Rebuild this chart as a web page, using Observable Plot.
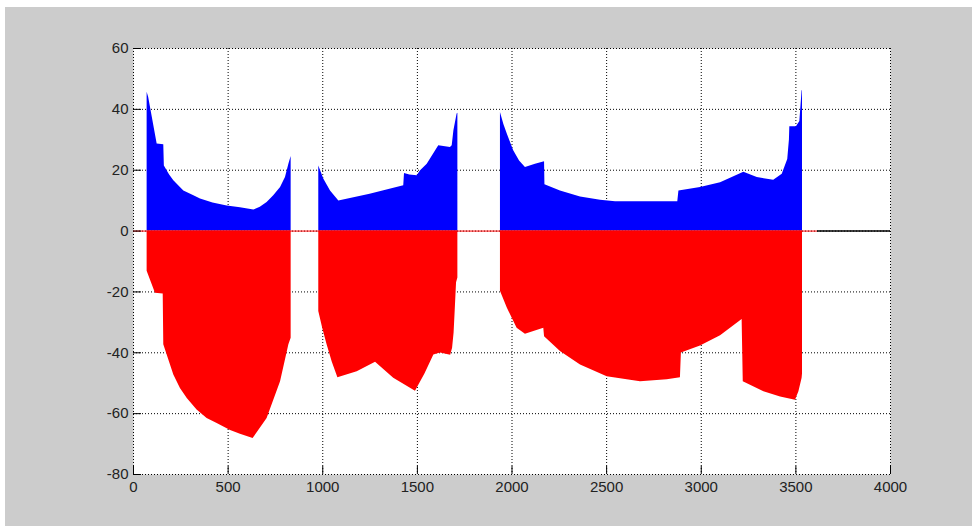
<!DOCTYPE html>
<html>
<head>
<meta charset="utf-8">
<script src="https://cdn.jsdelivr.net/npm/d3@7"></script>
<script src="https://cdn.jsdelivr.net/npm/@observablehq/plot@0.6"></script>
<style>
  html, body { margin: 0; padding: 0; background: #ffffff; }
  #wrap { position: absolute; left: 5px; top: 7px; width: 967px; height: 519px; background: #cccccc; }
  #wrap svg { background: #cccccc; display: block; }
</style>
</head>
<body>
<div id="wrap"></div>
<script>
// x ticks and y ticks
const xTicks = [0, 500, 1000, 1500, 2000, 2500, 3000, 3500, 4000];
const yTicks = [-80, -60, -40, -20, 0, 20, 40, 60];

// Positive (blue) areas: [x, value]
const blueSeg1 = [[72,45.6],[80,44],[125,28.6],[160,28.4],[163,21.4],[190,18.5],[213,16.5],[231,15.4],[266,13.2],[319,11.6],[354,10.5],[420,9.2],[495,8.25],[565,7.7],[636,6.9],[670,7.8],[706,9.4],[741,11.6],[777,14.3],[803,17.6],[821,22],[833,24.5]];
const blueSeg2 = [[979,21.4],[1006,17],[1041,13.2],[1085,9.9],[1250,12.1],[1428,14.9],[1432,18.9],[1460,18.4],[1499,18.2],[1517,19.8],[1552,22],[1613,28],[1675,27.5],[1684,28],[1693,33],[1710,38.5],[1714,38.7]];
const blueSeg3 = [[1939,39],[1957,35],[1975,31.9],[2009,26.4],[2040,23],[2071,20.9],[2124,22],[2172,22.8],[2174,15.2],[2256,13.2],[2362,11.2],[2468,10.1],[2547,9.6],[2876,9.6],[2882,13.2],[2996,14.3],[3102,15.9],[3225,19.3],[3296,17.6],[3383,16.7],[3428,18.7],[3457,23.5],[3466,30],[3468,34.3],[3503,34.3],[3521,36],[3533,46.2],[3535,46]];

// Negative (red) areas: [x, value]
const redSeg1 = [[72,-13.2],[116,-20.4],[157,-20.7],[160,-37.4],[213,-47.3],[248,-51.7],[284,-55],[336,-58.8],[389,-61.6],[442,-63.2],[513,-65.5],[565,-66.8],[632,-68.2],[706,-61.6],[777,-49.5],[821,-37.4],[833,-35.2]];
const redSeg2 = [[979,-26.4],[1000,-32],[1023,-37.4],[1050,-43],[1080,-48.2],[1182,-46.2],[1279,-43.1],[1375,-48.4],[1490,-52.6],[1540,-47],[1587,-40.7],[1622,-40.1],[1676,-40.8],[1686,-38.5],[1694,-33.5],[1700,-26],[1707,-17],[1714,-15.4]];
const redSeg3 = [[1939,-19.8],[1975,-25.3],[2027,-31.9],[2071,-33.9],[2168,-31.9],[2172,-34.7],[2256,-39.6],[2362,-44],[2503,-47.9],[2679,-49.5],[2820,-48.9],[2890,-48.2],[2895,-40.1],[2996,-37.8],[3102,-34.4],[3216,-29.1],[3222,-49.5],[3331,-52.8],[3419,-54.5],[3498,-55.6],[3516,-52.8],[3533,-48.4],[3535,-47]];

// zero reference lines: red portion then black portion [x1, x2]
const zeroRed = [0, 3614];
const zeroBlack = [3614, 4000];

const W = 967, H = 519;
const mL = 128, mR = 82, mT = 41, mB = 52;
const innerW = W - mL - mR, innerH = H - mT - mB;

const blues = [blueSeg1, blueSeg2, blueSeg3];
const reds = [redSeg1, redSeg2, redSeg3];

const chart = Plot.plot({
  width: W,
  height: H,
  marginLeft: mL,
  marginRight: mR,
  marginTop: mT,
  marginBottom: mB,
  style: {background: "#cccccc", fontFamily: "'Liberation Sans', Arial, sans-serif", fontSize: "15px", color: "#222"},
  x: {domain: [0, 4000], axis: null},
  y: {domain: [-80, 60], axis: null},
  marks: [
    Plot.frame({fill: "white", stroke: "none"}),
    Plot.gridX(xTicks, {stroke: "black", strokeOpacity: 1, strokeDasharray: "1,2"}),
    Plot.gridY(yTicks, {stroke: "black", strokeOpacity: 1, strokeDasharray: "1,2"}),
    ...blues.map(s => Plot.areaY(s, {x: d => d[0], y: d => d[1], fill: "#0000ff", curve: "linear"})),
    ...reds.map(s => Plot.areaY(s, {x: d => d[0], y: d => d[1], fill: "#ff0000", curve: "linear"})),
    Plot.ruleY([0], {x1: zeroRed[0], x2: zeroRed[1], stroke: "#ff0000", strokeWidth: 1}),
    Plot.ruleY([0], {x1: zeroBlack[0], x2: zeroBlack[1], stroke: "black", strokeWidth: 1.5}),
    Plot.tickX(xTicks, {x: d => d, stroke: "black", insetTop: innerH - 8}),
    Plot.tickY(yTicks, {y: d => d, stroke: "black", insetRight: innerW - 8}),
    Plot.axisX(xTicks, {tickSize: 0, tickPadding: 7, tickFormat: d => String(d), fontSize: 15, fill: "#222"}),
    Plot.axisY(yTicks, {tickSize: 0, tickPadding: 5, tickFormat: d => String(d), fontSize: 15, fill: "#222"})
  ]
});
document.getElementById("wrap").appendChild(chart);
</script>
</body>
</html>
